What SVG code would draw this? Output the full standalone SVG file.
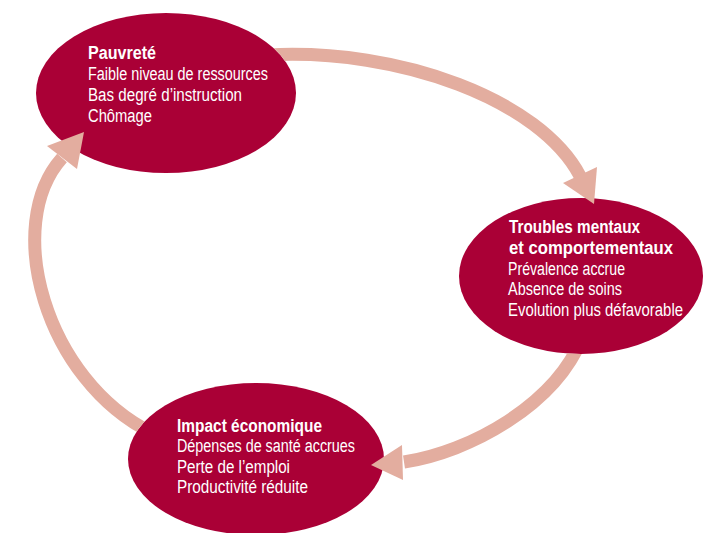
<svg xmlns="http://www.w3.org/2000/svg" width="706" height="533" viewBox="0 0 706 533">
<style>
.node{fill:#aa0036}
.t{fill:#ffffff;font-family:"Liberation Sans Narrow","Liberation Sans",Arial,sans-serif;font-size:18px}
.b{font-weight:bold}
.shaft{fill:none;stroke:#e3ad9f;stroke-width:13}
.head{fill:#e3ad9f}
</style>
<defs>
<mask id="m" maskUnits="userSpaceOnUse" x="0" y="0" width="706" height="533">
<rect x="0" y="0" width="706" height="533" fill="#fff"/>
<ellipse cx="166" cy="93" rx="130" ry="80" fill="#000"/>
<ellipse cx="581" cy="276" rx="122" ry="78" fill="#000"/>
<ellipse cx="256" cy="459" rx="128" ry="76" fill="#000"/>
</mask>
</defs>
<rect width="706" height="533" fill="#ffffff"/>
<g id="pauvrete">
<ellipse class="node" cx="166" cy="93" rx="130" ry="80"/>
<text class="t b" x="88" y="59" textLength="68" lengthAdjust="spacingAndGlyphs">Pauvreté</text>
<text class="t" x="88" y="80" textLength="180" lengthAdjust="spacingAndGlyphs">Faible niveau de ressources</text>
<text class="t" x="88" y="101" textLength="154" lengthAdjust="spacingAndGlyphs">Bas degré d’instruction</text>
<text class="t" x="88" y="122" textLength="64" lengthAdjust="spacingAndGlyphs">Chômage</text>
</g>
<g id="troubles">
<ellipse class="node" cx="581" cy="276" rx="122" ry="78"/>
<text class="t b" x="509" y="233" textLength="131" lengthAdjust="spacingAndGlyphs">Troubles mentaux</text>
<text class="t b" x="509" y="254" textLength="164" lengthAdjust="spacingAndGlyphs">et comportementaux</text>
<text class="t" x="508" y="275" textLength="117" lengthAdjust="spacingAndGlyphs">Prévalence accrue</text>
<text class="t" x="508" y="295" textLength="114" lengthAdjust="spacingAndGlyphs">Absence de soins</text>
<text class="t" x="508" y="316" textLength="175" lengthAdjust="spacingAndGlyphs">Evolution plus défavorable</text>
</g>
<g id="impact">
<ellipse class="node" cx="256" cy="459" rx="128" ry="76"/>
<text class="t b" x="177" y="432" textLength="145" lengthAdjust="spacingAndGlyphs">Impact économique</text>
<text class="t" x="177" y="452" textLength="178" lengthAdjust="spacingAndGlyphs">Dépenses de santé accrues</text>
<text class="t" x="177" y="473" textLength="113" lengthAdjust="spacingAndGlyphs">Perte de l’emploi</text>
<text class="t" x="177" y="493" textLength="131" lengthAdjust="spacingAndGlyphs">Productivité réduite</text>
</g>
<g id="connectors">
<path class="shaft" mask="url(#m)" d="M 268 55 C 400 48, 540 100, 580 176"/>
<polygon class="head" points="563,183 597,167 594,204"/>
<path class="shaft" mask="url(#m)" d="M 582 338 C 555 405, 470 452, 404 462"/>
<polygon class="head" points="402,445 403,480 371,465"/>
<path class="shaft" mask="url(#m)" d="M 152 433 C 45 380, 2 225, 62 158"/>
<polygon class="head" points="47,146 77,169 84,132"/>
</g>
</svg>
